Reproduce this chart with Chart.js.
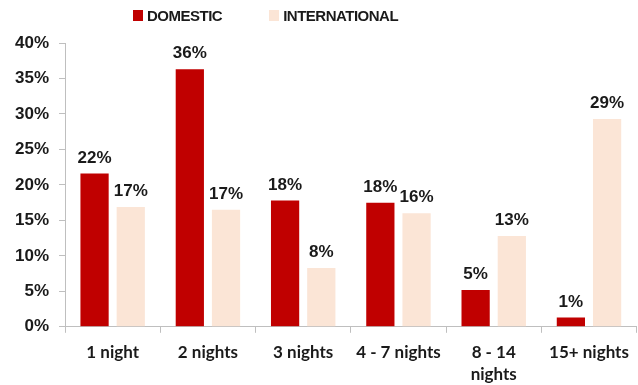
<!DOCTYPE html>
<html>
<head>
<meta charset="utf-8">
<script src="https://cdn.jsdelivr.net/npm/chart.js@4"></script>
<style>
  html, body { margin: 0; padding: 0; background: #fff; }
  #wrap { position: relative; width: 638px; height: 385px; }
  #legend {
    position: absolute; left: 133px; top: 7px;
    display: flex; gap: 47px;
    font: bold 15px "Liberation Sans", Arial, sans-serif; color: #1a1a1a;
    letter-spacing: -0.5px;
  }
  .item { display: flex; align-items: center; }
  .box { width: 10px; height: 11px; margin-right: 4px; }
</style>
</head>
<body>
<div id="wrap">
  <div id="legend"></div>
  <canvas id="grafico" width="638" height="385"></canvas>
</div>
<script>
const categorias = ['1 night', '2 nights', '3 nights', '4 - 7 nights', ['8 - 14', 'nights'], '15+ nights'];
const domestico = [21.6, 36.3, 17.8, 17.5, 5.2, 1.3];
const internacional = [16.9, 16.5, 8.3, 16.0, 12.8, 29.3];
const yTicks = [0, 5, 10, 15, 20, 25, 30, 35, 40];

const series = [
    { label: 'DOMESTIC', data: domestico, color: '#C00000' },
    { label: 'INTERNATIONAL', data: internacional, color: '#FBE5D6' }
];

// legenda em HTML
const legend = document.getElementById('legend');
series.forEach(s => {
    const item = document.createElement('div');
    item.className = 'item';
    item.innerHTML = `<span class="box" style="background:${s.color}"></span><span>${s.label}</span>`;
    legend.appendChild(item);
});

// rótulos de valor acima das barras
const rotulos = {
    id: 'rotulos',
    afterDatasetsDraw(chart) {
        const ctx = chart.ctx;
        ctx.save();
        ctx.font = 'bold 17px "Liberation Sans", Arial, sans-serif';
        ctx.fillStyle = '#1a1a1a';
        ctx.textAlign = 'center';
        ctx.textBaseline = 'bottom';
        chart.data.datasets.forEach((ds, i) => {
            chart.getDatasetMeta(i).data.forEach((bar, j) => {
                ctx.fillText(Math.round(ds.data[j]) + '%', bar.x, bar.y - 7);
            });
        });
        ctx.restore();
    }
};

const eixo = '#BFBFBF';

new Chart(document.getElementById('grafico'), {
    type: 'bar',
    data: {
        labels: categorias,
        datasets: series.map(s => ({
            label: s.label,
            data: s.data,
            backgroundColor: s.color,
            barPercentage: 0.78,
            categoryPercentage: 0.76
        }))
    },
    options: {
        responsive: false,
        animation: false,
        layout: { padding: { top: 43, right: 1, left: 5, bottom: -10 } },
        plugins: {
            legend: { display: false },
            tooltip: { enabled: false }
        },
        scales: {
            x: {
                grid: { drawOnChartArea: false, color: eixo, tickLength: 6, offset: true },
                border: { color: eixo },
                ticks: {
                    color: '#1a1a1a',
                    padding: 9,
                    maxRotation: 0,
                    autoSkip: false,
                    font: { family: 'Lato, "Open Sans", sans-serif', weight: 'bold', size: 17, lineHeight: 1.3 }
                }
            },
            y: {
                min: 0,
                max: 40,
                afterBuildTicks: axis => { axis.ticks = yTicks.map(v => ({ value: v })); },
                grid: { drawOnChartArea: false, color: eixo, tickLength: 6 },
                border: { color: eixo },
                ticks: {
                    color: '#1a1a1a',
                    padding: 10,
                    callback: v => v + '%',
                    font: { family: '"Liberation Sans", Arial, sans-serif', weight: 'bold', size: 17 }
                }
            }
        }
    },
    plugins: [rotulos]
});
</script>
</body>
</html>
